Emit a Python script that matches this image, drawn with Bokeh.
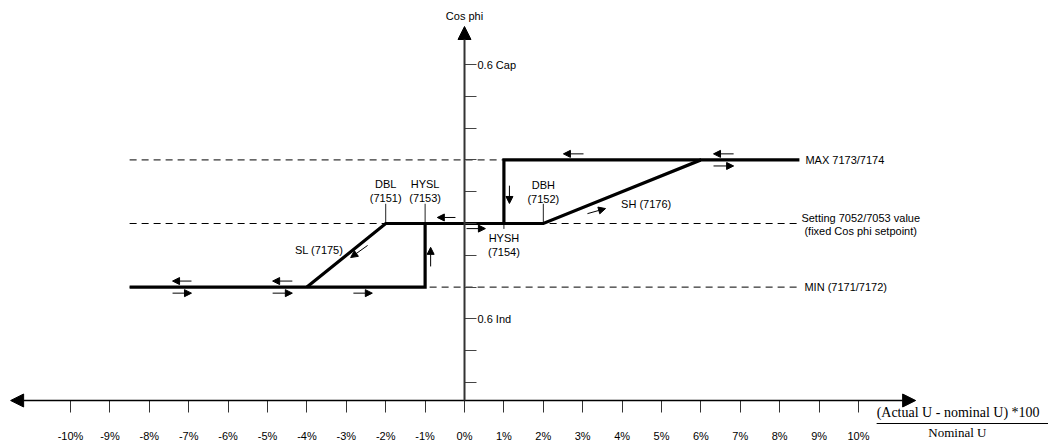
from bokeh.plotting import figure
from bokeh.models import (LinearAxis, FixedTicker, Arrow, NormalHead,
                          ColumnDataSource, Range1d)
from bokeh.core.properties import value
from bokeh.embed import file_html
from bokeh.resources import INLINE

# ---------------- data ----------------
x_ticks = list(range(-10, 11))
x_tick_labels = [f"{t}%" for t in x_ticks]
y_ticks = [-5, -4, -3, -2, -1, 0, 1, 2, 3, 4, 5]
y_tick_text = {5: "0.6 Cap", -3: "0.6 Ind"}

LEVEL_MAX = 2      # MAX 7173/7174
LEVEL_SET = 0      # Setting 7052/7053
LEVEL_MIN = -2     # MIN 7171/7172
X_END = 8.5        # extent of the characteristic (%)

SL_START = -4      # SL slope starts at MIN
DBL = -2
HYSL = -1
HYSH = 1
DBH = 2
SH_END = 6         # SH slope reaches MAX

curve_xs = [[-X_END, HYSL, HYSL],
            [SL_START, DBL, DBH, SH_END, X_END],
            [HYSH, HYSH, SH_END]]
curve_ys = [[LEVEL_MIN, LEVEL_MIN, LEVEL_SET],
            [LEVEL_MIN, LEVEL_SET, LEVEL_SET, LEVEL_MAX, LEVEL_MAX],
            [LEVEL_SET, LEVEL_MAX, LEVEL_MAX]]

levels = [LEVEL_MAX, LEVEL_SET, LEVEL_MIN]

# direction arrows (start x, start y, end x, end y)
dir_x0 = [6.83, 6.32, 3.02, 1.14, -0.23, 0.05, -0.86, 3.12, -2.46, -6.93, -7.41, -4.37, -4.87, -2.82]
dir_y0 = [2.19, 1.81, 2.19, 1.19, 0.19, -0.16, -1.35, 0.31, -0.69, -1.81, -2.19, -1.81, -2.19, -2.19]
dir_x1 = [6.32, 6.83, 2.51, 1.14, -0.69, 0.53, -0.86, 3.58, -2.89, -7.41, -6.93, -4.87, -4.37, -2.34]
dir_y1 = [2.19, 1.81, 2.19, 0.63, 0.19, -0.16, -0.75, 0.47, -1.07, -1.81, -2.19, -1.81, -2.19, -2.19]

# ---------------- layout constants ----------------
AXIS_Y = -5.566
Y_TOP = 6.195
X_LEFT = -11.52
X_RIGHT = 11.45
FRAC_X = 10.46
FRAC_CX = 12.51
XR = (-11.777, 14.822)
YR = (-6.855, 7.013)
PX_PER_Y = 31.8

FONT = "Liberation Sans"
SERIF = "Liberation Serif"

p = figure(width=1048, height=441,
           x_range=Range1d(*XR), y_range=Range1d(*YR),
           x_axis_location=None, y_axis_location=None,
           toolbar_location=None, tools="", output_backend="svg",
           min_border=0, outline_line_color=None,
           background_fill_color="white", border_fill_color="white")
for g in p.grid:
    g.visible = False

# axes ticks / labels
xaxis = LinearAxis(fixed_location=AXIS_Y, ticker=FixedTicker(ticks=x_ticks),
                   major_label_overrides={t: l for t, l in zip(x_ticks, x_tick_labels)},
                   axis_line_color=None, major_tick_in=0, major_tick_out=12,
                   major_tick_line_color="#333333", major_tick_line_width=1,
                   minor_tick_line_color=None, major_label_standoff=17,
                   major_label_text_font=FONT, major_label_text_font_size="11px",
                   major_label_text_color="black")
p.add_layout(xaxis, "below")

yaxis = LinearAxis(fixed_location=0, ticker=FixedTicker(ticks=y_ticks),
                   major_label_overrides={t: y_tick_text.get(t, "") for t in y_ticks},
                   axis_line_color=None, major_tick_in=0, major_tick_out=12,
                   major_tick_line_color="#444444", major_tick_line_width=1,
                   minor_tick_line_color=None, major_label_standoff=1,
                   major_label_text_font=FONT, major_label_text_font_size="11px",
                   major_label_text_color="black")
p.add_layout(yaxis, "right")

# axis lines with arrow heads
p.add_layout(Arrow(start=NormalHead(size=13, fill_color="black", line_color="black", line_width=1),
                   end=NormalHead(size=13, fill_color="black", line_color="black", line_width=1),
                   x_start=X_LEFT, y_start=AXIS_Y, x_end=X_RIGHT, y_end=AXIS_Y,
                   line_color="black", line_width=1.5))
p.add_layout(Arrow(end=NormalHead(size=13, fill_color="black", line_color="black", line_width=1),
                   x_start=0, y_start=AXIS_Y, x_end=0, y_end=Y_TOP,
                   line_color="#333333", line_width=2))

# dashed reference levels
p.multi_line(xs=[[-X_END, X_END] for _ in levels], ys=[[lv, lv] for lv in levels],
             line_color="black", line_width=1, line_dash="7 5")

# boundary markers
p.segment(x0=[DBL, HYSL, DBH, HYSH], y0=[LEVEL_SET] * 4,
          x1=[DBL, HYSL, DBH, HYSH], y1=[0.62, 0.62, 0.62, -0.17],
          line_color="#222222", line_width=1)

# characteristic
p.multi_line(xs=curve_xs, ys=curve_ys, line_color="black", line_width=3.2,
             line_join="miter", line_cap="butt")

# direction arrows
dsrc = ColumnDataSource(dict(x0=dir_x0, y0=dir_y0, x1=dir_x1, y1=dir_y1))
p.add_layout(Arrow(end=NormalHead(size=7, fill_color="black", line_color="black", line_width=1),
                   source=dsrc, x_start="x0", y_start="y0", x_end="x1", y_end="y1",
                   line_color="black", line_width=1))

# labels: centred
c_src = ColumnDataSource(dict(
    x=[DBL, DBL, HYSL, HYSL, DBH, DBH, HYSH, HYSH],
    y=[LEVEL_SET] * 8,
    t=["DBL", "(7151)", "HYSL", "(7153)", "DBH", "(7152)", "HYSH", "(7154)"],
    dy=[-40, -26, -40, -26, -39, -25, 14, 28],
))
p.text(x="x", y="y", text="t", y_offset="dy", source=c_src,
       text_font=value(FONT), text_font_size="11px", text_align="center",
       text_baseline="middle", text_color="black")

# left aligned
l_src = ColumnDataSource(dict(
    x=[X_END, X_END, X_END, X_END, (DBH + SH_END) / 2],
    y=[LEVEL_MAX, LEVEL_SET, LEVEL_SET, LEVEL_MIN, (LEVEL_SET + LEVEL_MAX) / 2],
    t=["MAX 7173/7174", "Setting 7052/7053 value", "(fixed Cos phi setpoint)",
       "MIN (7171/7172)", "SH (7176)"],
    dx=[6, 2, 5, 5, -1],
    dy=[0, -6, 7, 0, 12],
))
p.text(x="x", y="y", text="t", x_offset="dx", y_offset="dy", source=l_src,
       text_font=value(FONT), text_font_size="11px", text_align="left",
       text_baseline="middle", text_color="black")

# right aligned
p.text(x=[(SL_START + DBL) / 2], y=[(LEVEL_MIN + LEVEL_SET) / 2], text=["SL (7175)"],
       x_offset=-3, y_offset=-5,
       text_font=value(FONT), text_font_size="11px", text_align="right",
       text_baseline="middle", text_color="black")

# y axis title
p.text(x=[0], y=[Y_TOP], text=["Cos phi"], y_offset=-11,
       text_font=value(FONT), text_font_size="11px", text_align="center",
       text_baseline="middle", text_color="black")

# x axis formula
p.text(x=[FRAC_X], y=[AXIS_Y], text=["(Actual U - nominal U) *100"], y_offset=12,
       text_font=value(SERIF), text_font_size="14px", text_align="left",
       text_baseline="middle", text_color="black")
p.segment(x0=[FRAC_X], y0=[AXIS_Y - 23 / PX_PER_Y], x1=[XR[1]], y1=[AXIS_Y - 23 / PX_PER_Y],
          line_color="black", line_width=1)
p.text(x=[FRAC_CX], y=[AXIS_Y], text=["Nominal U"], y_offset=32,
       text_font=value(SERIF), text_font_size="13px", text_align="center",
       text_baseline="middle", text_color="black")

open("out.html", "w").write(file_html(p, INLINE))
